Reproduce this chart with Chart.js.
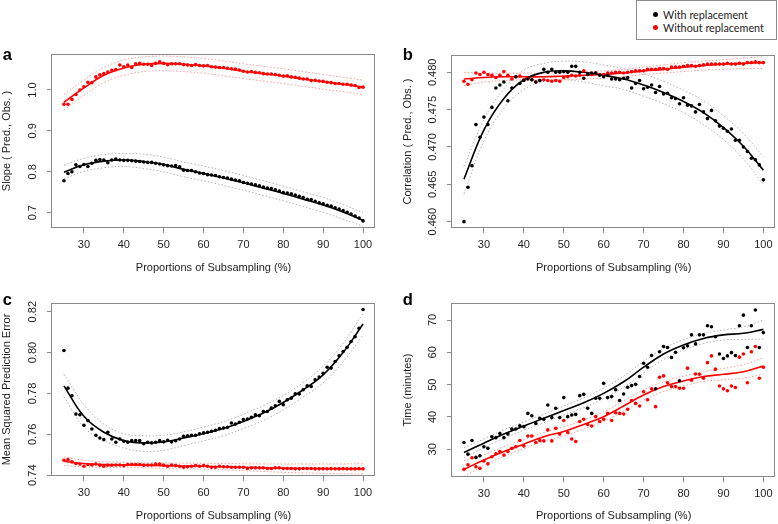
<!DOCTYPE html>
<html>
<head>
<meta charset="utf-8">
<script src="https://cdn.jsdelivr.net/npm/chart.js@4/dist/chart.umd.min.js"></script>
<style>
html,body{margin:0;padding:0;background:#fff;}
body{width:778px;height:524px;position:relative;overflow:hidden;}
canvas{position:absolute;}
#legend{position:absolute;left:636px;top:0;width:141px;height:40px;box-sizing:border-box;border:1px solid #8c8c8c;background:#fff;font-family:Lato,"Open Sans",sans-serif;font-size:10.8px;color:#222;}
.item{position:absolute;left:26px;line-height:13px;white-space:nowrap;}
.dot{position:absolute;width:5px;height:5px;border-radius:50%;left:16.2px;}
</style>
</head>
<body>
<canvas id="pa" width="390" height="240" style="left:0;top:40px"></canvas>
<canvas id="pb" width="388" height="240" style="left:390px;top:40px"></canvas>
<canvas id="pc" width="390" height="244" style="left:0;top:280px"></canvas>
<canvas id="pd" width="388" height="244" style="left:390px;top:280px"></canvas>
<div id="legend">
  <span class="dot" style="top:10.5px;background:#000"></span><span class="item" style="top:6.5px">With replacement</span>
  <span class="dot" style="top:23.8px;background:#f00"></span><span class="item" style="top:19.8px">Without replacement</span>
</div>
<script>
// ---------------- data ----------------
const proportions = [25,26,27,28,29,
  30,31,32,33,34,35,36,37,38,39,
  40,41,42,43,44,45,46,47,48,49,
  50,51,52,53,54,55,56,57,58,59,
  60,61,62,63,64,65,66,67,68,69,
  70,71,72,73,74,75,76,77,78,79,
  80,81,82,83,84,85,86,87,88,89,
  90,91,92,93,94,95,96,97,98,99,
  100];
const fitX = [25,30,35,40,45,50,55,60,65,70,75,80,85,90,95,100];
const xTicks = [30,40,50,60,70,80,90,100];

// (a) slope
const slopeWith = [0.778,0.796,0.800,0.817,0.813,
  0.818,0.813,0.821,0.828,0.830,0.829,0.822,0.829,0.831,0.829,
  0.828,0.828,0.827,0.826,0.825,0.824,0.823,0.823,0.821,0.819,
  0.817,0.815,0.814,0.815,0.812,0.804,0.803,0.803,0.800,0.797,
  0.796,0.793,0.792,0.791,0.788,0.786,0.785,0.782,0.780,0.778,
  0.774,0.772,0.770,0.768,0.766,0.763,0.760,0.759,0.756,0.753,
  0.749,0.748,0.746,0.743,0.740,0.737,0.733,0.732,0.728,0.724,
  0.722,0.718,0.716,0.712,0.709,0.705,0.701,0.697,0.692,0.687,
  0.680];
const slopeWithout = [0.965,0.965,0.977,0.989,1.000,
  1.008,1.019,1.018,1.032,1.037,1.040,1.044,1.048,1.050,1.061,
  1.057,1.061,1.055,1.064,1.065,1.063,1.063,1.060,1.065,1.069,
  1.065,1.062,1.064,1.064,1.064,1.062,1.061,1.060,1.062,1.060,
  1.059,1.060,1.057,1.056,1.055,1.055,1.053,1.052,1.051,1.049,
  1.046,1.044,1.045,1.043,1.042,1.040,1.039,1.039,1.038,1.036,
  1.034,1.035,1.032,1.031,1.029,1.027,1.027,1.023,1.024,1.022,
  1.021,1.019,1.018,1.016,1.016,1.014,1.014,1.012,1.011,1.006,
  1.007];
const slopeWithFit   = [0.799,0.817,0.826,0.829,0.825,0.818,0.806,0.796,0.785,0.773,0.760,0.747,0.733,0.719,0.702,0.681];
const slopeWithUp    = [0.816,0.833,0.842,0.845,0.843,0.836,0.824,0.814,0.803,0.791,0.778,0.765,0.751,0.737,0.720,0.700];
const slopeWithLo    = [0.783,0.801,0.810,0.813,0.808,0.800,0.788,0.778,0.767,0.755,0.742,0.729,0.715,0.701,0.684,0.667];
const slopeWithoutFit= [0.970,1.005,1.036,1.054,1.063,1.065,1.063,1.059,1.053,1.046,1.040,1.034,1.027,1.020,1.014,1.007];
const slopeWithoutUp = [0.989,1.024,1.055,1.073,1.081,1.083,1.081,1.077,1.071,1.064,1.058,1.052,1.045,1.038,1.031,1.024];
const slopeWithoutLo = [0.951,0.987,1.018,1.036,1.045,1.047,1.045,1.041,1.035,1.028,1.022,1.016,1.009,1.002,0.996,0.989];
const slopeTicks = [0.7,0.8,0.9,1.0];

// (b) correlation
const corrWith = [0.4600,0.4646,0.4675,0.4730,0.4713,
  0.4740,0.4730,0.4753,0.4779,0.4783,0.4787,0.4762,0.4779,0.4794,0.4785,
  0.4789,0.4791,0.4790,0.4787,0.4789,0.4804,0.4800,0.4804,0.4800,0.4800,
  0.4801,0.4800,0.4808,0.4808,0.4800,0.4792,0.4797,0.4799,0.4799,0.4796,
  0.4794,0.4796,0.4791,0.4791,0.4790,0.4792,0.4793,0.4779,0.4785,0.4789,
  0.4778,0.4780,0.4783,0.4773,0.4781,0.4771,0.4772,0.4766,0.4765,0.4758,
  0.4766,0.4756,0.4755,0.4747,0.4757,0.4747,0.4738,0.4749,0.4735,0.4728,
  0.4725,0.4721,0.4724,0.4709,0.4709,0.4700,0.4694,0.4685,0.4683,0.4676,
  0.4656];
const corrWithout = [0.4788,0.4784,0.4790,0.4799,0.4797,
  0.4800,0.4797,0.4796,0.4793,0.4796,0.4801,0.4796,0.4791,0.4794,0.4795,
  0.4790,0.4792,0.4790,0.4787,0.4789,0.4790,0.4789,0.4788,0.4789,0.4788,
  0.4793,0.4794,0.4796,0.4795,0.4796,0.4802,0.4797,0.4797,0.4799,0.4797,
  0.4797,0.4799,0.4799,0.4800,0.4800,0.4799,0.4800,0.4801,0.4802,0.4802,
  0.4802,0.4804,0.4804,0.4804,0.4805,0.4805,0.4804,0.4807,0.4807,0.4807,
  0.4808,0.4809,0.4809,0.4808,0.4809,0.4810,0.4811,0.4811,0.4811,0.4811,
  0.4811,0.4812,0.4811,0.4811,0.4812,0.4811,0.4813,0.4813,0.4814,0.4813,
  0.4813];
const corrWithFit    = [0.4657,0.4723,0.4765,0.4790,0.4800,0.4802,0.4800,0.4796,0.4791,0.4783,0.4773,0.4761,0.4746,0.4726,0.4701,0.4669];
const corrWithUp     = [0.4674,0.4737,0.4778,0.4803,0.4812,0.4815,0.4814,0.4810,0.4805,0.4798,0.4788,0.4776,0.4762,0.4742,0.4718,0.4687];
const corrWithLo     = [0.4637,0.4708,0.4752,0.4777,0.4788,0.4790,0.4787,0.4782,0.4777,0.4768,0.4758,0.4746,0.4730,0.4710,0.4684,0.4650];
const corrWithoutFit = [0.4791,0.4793,0.4794,0.4794,0.4794,0.4795,0.4796,0.4797,0.4799,0.4802,0.4804,0.4807,0.4809,0.4811,0.4812,0.4813];
const corrWithoutUp  = [0.4800,0.4799,0.4799,0.4799,0.4799,0.4800,0.4801,0.4802,0.4804,0.4807,0.4810,0.4813,0.4815,0.4817,0.4819,0.4821];
const corrWithoutLo  = [0.4782,0.4787,0.4789,0.4790,0.4790,0.4790,0.4791,0.4792,0.4794,0.4797,0.4799,0.4801,0.4803,0.4804,0.4805,0.4805];
const corrTicks = [0.460,0.465,0.470,0.475,0.480];

// (c) mean squared prediction error
const mspeWith = [0.8010,0.7826,0.7789,0.7699,0.7696,
  0.7644,0.7667,0.7626,0.7595,0.7582,0.7574,0.7610,0.7577,0.7561,0.7577,
  0.7566,0.7561,0.7569,0.7569,0.7569,0.7554,0.7561,0.7558,0.7561,0.7569,
  0.7563,0.7571,0.7563,0.7569,0.7577,0.7590,0.7593,0.7595,0.7595,0.7603,
  0.7607,0.7610,0.7615,0.7620,0.7628,0.7631,0.7634,0.7655,0.7650,0.7659,
  0.7672,0.7675,0.7683,0.7696,0.7691,0.7712,0.7712,0.7728,0.7740,0.7761,
  0.7745,0.7769,0.7777,0.7798,0.7797,0.7818,0.7837,0.7834,0.7867,0.7880,
  0.7899,0.7928,0.7924,0.7956,0.7984,0.8005,0.8026,0.8054,0.8078,0.8119,
  0.8211];
const mspeWithout = [0.7473,0.7476,0.7465,0.7457,0.7455,
  0.7444,0.7452,0.7450,0.7455,0.7449,0.7444,0.7449,0.7449,0.7450,0.7450,
  0.7447,0.7452,0.7452,0.7452,0.7452,0.7449,0.7450,0.7450,0.7455,0.7455,
  0.7449,0.7444,0.7449,0.7447,0.7444,0.7439,0.7441,0.7444,0.7447,0.7444,
  0.7447,0.7444,0.7439,0.7439,0.7444,0.7441,0.7441,0.7439,0.7439,0.7439,
  0.7439,0.7433,0.7436,0.7436,0.7436,0.7436,0.7433,0.7433,0.7436,0.7436,
  0.7433,0.7433,0.7433,0.7431,0.7431,0.7433,0.7433,0.7433,0.7431,0.7431,
  0.7431,0.7431,0.7432,0.7431,0.7431,0.7432,0.7431,0.7431,0.7431,0.7432,
  0.7431];
const mspeWithFit    = [0.7837,0.7688,0.7610,0.7569,0.7558,0.7563,0.7582,0.7603,0.7628,0.7663,0.7704,0.7756,0.7818,0.7891,0.8000,0.8140];
const mspeWithUp     = [0.7894,0.7746,0.7650,0.7603,0.7593,0.7595,0.7612,0.7636,0.7662,0.7698,0.7740,0.7790,0.7853,0.7933,0.8045,0.8192];
const mspeWithLo     = [0.7785,0.7635,0.7570,0.7533,0.7517,0.7522,0.7545,0.7568,0.7593,0.7628,0.7668,0.7720,0.7783,0.7852,0.7955,0.8086];
const mspeWithoutFit = [0.7468,0.7457,0.7452,0.7450,0.7449,0.7447,0.7445,0.7444,0.7441,0.7439,0.7436,0.7434,0.7433,0.7432,0.7431,0.7431];
const mspeWithoutUp  = [0.7489,0.7473,0.7466,0.7463,0.7461,0.7460,0.7459,0.7458,0.7457,0.7456,0.7455,0.7455,0.7455,0.7455,0.7455,0.7456];
const mspeWithoutLo  = [0.7447,0.7441,0.7438,0.7437,0.7436,0.7434,0.7431,0.7430,0.7426,0.7422,0.7418,0.7414,0.7411,0.7409,0.7407,0.7406];
const mspeTicks = [0.74,0.76,0.78,0.80,0.82];

// (d) time
const timeWith = [32.1,28.5,32.7,27.5,28.0,
  30.8,30.3,33.9,33.6,34.9,33.6,34.7,36.3,36.3,37.3,
  37.0,41.1,40.4,38.0,39.6,39.3,43.7,39.8,42.7,39.8,
  46.0,40.1,40.6,40.8,46.6,47.0,42.7,41.1,45.8,45.8,
  50.4,46.0,46.3,48.4,45.1,47.1,49.2,49.7,50.1,52.5,
  56.6,55.4,59.0,48.7,60.2,61.8,61.5,58.4,60.0,51.2,
  61.4,62.0,65.4,62.6,65.4,65.4,68.2,67.9,64.8,59.5,
  58.1,58.9,59.9,59.0,68.2,71.5,61.5,68.2,73.1,61.5,
  66.1];
const timeWithout = [23.8,25.2,27.4,24.6,24.1,
  26.4,25.5,27.7,28.6,29.3,28.2,29.3,30.3,30.8,32.7,
  31.0,34.1,34.1,32.1,32.7,32.6,36.0,32.6,36.5,34.7,
  38.9,35.2,33.2,32.4,38.6,39.3,37.7,37.2,40.1,38.6,
  39.3,41.1,38.9,41.3,41.1,40.9,42.4,45.1,44.2,43.4,
  47.8,45.3,48.7,43.2,52.3,52.7,50.6,49.4,49.4,48.9,
  48.9,55.1,51.4,53.3,53.2,52.0,56.8,58.9,54.8,49.6,
  48.7,48.1,49.6,49.1,58.5,59.5,50.6,60.2,61.8,52.0,
  55.4];
const timeWithFit    = [29.0,31.9,34.7,37.2,39.6,42.0,44.4,47.3,50.9,55.4,59.5,62.3,64.3,65.4,65.9,67.1];
const timeWithUp     = [30.5,33.2,36.0,38.5,40.9,43.4,45.9,48.9,52.6,57.2,61.2,63.9,65.8,66.9,67.9,70.0];
const timeWithLo     = [27.3,30.5,33.4,35.9,38.2,40.6,42.9,45.7,49.2,53.6,57.8,60.7,62.7,63.8,64.0,64.1];
const timeWithoutFit = [23.8,26.7,29.3,31.6,33.9,35.5,37.7,40.1,43.4,46.8,49.4,51.1,52.5,53.2,54.0,55.8];
const timeWithoutUp  = [26.5,28.3,30.8,33.0,35.2,36.9,39.1,41.6,45.0,48.4,50.9,52.6,54.0,55.0,56.2,58.3];
const timeWithoutLo  = [21.5,25.0,27.8,30.2,32.5,34.1,36.3,38.6,41.8,45.2,47.9,49.6,51.0,51.5,52.0,53.3];
const timeTicks = [30,40,50,60,70];

// ---------------- drawing ----------------
const BLACK = '#000000', RED = '#ff0000', GREYBAND = '#b0b0b0', REDBAND = '#ff9a9a';
const FRAME = '#8a8a8a', TEXT = '#1e1e1e';
const FONT = "'Liberation Sans', Arial, Helvetica, sans-serif";

function xy(xs, ys) { return xs.map((x, i) => ({x: x, y: ys[i]})); }
function pointSet(ys, color) {
  return {data: xy(proportions, ys), showLine: false, pointRadius: 1.8, pointHoverRadius: 1.8,
          pointBackgroundColor: color, pointBorderWidth: 0, borderColor: color};
}
function lineSet(ys, color, width, dash) {
  return {data: xy(fitX, ys), showLine: true, borderColor: color, borderWidth: width,
          borderDash: dash || [], pointRadius: 0, pointHoverRadius: 0, tension: 0.4, fill: false};
}

function makeFrame(yTicks, decimals, letter, lx, ly) {
  return {
    id: 'rFrame',
    afterDraw(chart) {
      const ctx = chart.ctx, a = chart.chartArea, ys = chart.scales.y;
      ctx.save();
      ctx.strokeStyle = FRAME; ctx.lineWidth = 1;
      const L = Math.round(a.left), T = Math.round(a.top), R = Math.round(a.right), B = Math.round(a.bottom);
      ctx.strokeRect(L - 0.5, T + 0.5, R - L, B - T - 1);
      ctx.fillStyle = TEXT; ctx.font = '11px ' + FONT;
      ctx.textAlign = 'center'; ctx.textBaseline = 'alphabetic';
      yTicks.forEach(v => {
        const py = ys.getPixelForValue(v);
        ctx.save(); ctx.translate(a.left - 16, py); ctx.rotate(-Math.PI / 2);
        ctx.fillText(v.toFixed(decimals), 0, 0); ctx.restore();
      });
      ctx.fillStyle = '#000'; ctx.font = 'bold 16.5px ' + FONT; ctx.textAlign = 'left';
      ctx.fillText(letter, lx, ly);
      ctx.restore();
    }
  };
}

function panel(id, p) {
  const canvas = document.getElementById(id);
  const datasets = [
    pointSet(p.withVals, BLACK),
    pointSet(p.withoutVals, RED),
    lineSet(p.withFit, BLACK, 1.6),
    lineSet(p.withoutFit, RED, 1.6),
    lineSet(p.withUp, GREYBAND, 1, [1.5, 2]),
    lineSet(p.withLo, GREYBAND, 1, [1.5, 2]),
    lineSet(p.withoutUp, REDBAND, 1, [1.5, 2]),
    lineSet(p.withoutLo, REDBAND, 1, [1.5, 2])
  ];
  const tickGrid = {display: true, drawOnChartArea: false, drawTicks: true, tickLength: 5, color: FRAME, lineWidth: 1};
  new Chart(canvas, {
    type: 'scatter',
    data: {datasets: datasets},
    options: {
      responsive: false, animation: false, events: [],
      layout: {padding: {left: 0, top: p.padTop, right: p.padRight, bottom: 0}},
      plugins: {legend: {display: false}, tooltip: {enabled: false}},
      scales: {
        x: {
          type: 'linear', min: 22, max: 103,
          afterBuildTicks: s => { s.ticks = xTicks.map(v => ({value: v})); },
          afterFit: s => { s.height = p.xHeight; },
          grid: tickGrid, border: {display: false},
          ticks: {autoSkip: false, maxRotation: 0, minRotation: 0, padding: 5.4, color: TEXT,
                  font: {family: FONT, size: 11}, callback: v => String(v)},
          title: {display: true, text: 'Proportions of Subsampling (%)', color: TEXT,
                  font: {family: FONT, size: 11}, padding: {top: 0, bottom: p.xTitlePad}}
        },
        y: {
          type: 'linear', min: p.yMin, max: p.yMax,
          afterBuildTicks: s => { s.ticks = p.yTicks.map(v => ({value: v})); },
          afterFit: s => { s.width = p.yWidth; },
          grid: tickGrid, border: {display: false},
          ticks: {display: false},
          title: {display: true, text: p.yTitle, color: TEXT,
                  font: {family: FONT, size: 11}, padding: {top: p.yTitlePad, bottom: 0}}
        }
      }
    },
    plugins: [makeFrame(p.yTicks, p.decimals, p.letter, p.lx, p.ly)]
  });
}

panel('pa', {withVals: slopeWith, withoutVals: slopeWithout,
  withFit: slopeWithFit, withUp: slopeWithUp, withLo: slopeWithLo,
  withoutFit: slopeWithoutFit, withoutUp: slopeWithoutUp, withoutLo: slopeWithoutLo,
  yTicks: slopeTicks, decimals: 1, yMin: 0.6626, yMax: 1.088, yTitle: 'Slope ( Pred., Obs. )',
  padTop: 14, padRight: 15, yWidth: 52, xHeight: 52, xTitlePad: 5.4, yTitlePad: 0,
  letter: 'a', lx: 2.8, ly: 19.5});

panel('pb', {withVals: corrWith, withoutVals: corrWithout,
  withFit: corrWithFit, withUp: corrWithUp, withLo: corrWithLo,
  withoutFit: corrWithoutFit, withoutUp: corrWithoutUp, withoutLo: corrWithoutLo,
  yTicks: corrTicks, decimals: 3, yMin: 0.45915, yMax: 0.48232, yTitle: 'Correlation ( Pred., Obs. )',
  padTop: 15, padRight: 1, yWidth: 62, xHeight: 52, xTitlePad: 5.4, yTitlePad: 10.9,
  letter: 'b', lx: 12.8, ly: 20});

panel('pc', {withVals: mspeWith, withoutVals: mspeWithout,
  withFit: mspeWithFit, withUp: mspeWithUp, withLo: mspeWithLo,
  withoutFit: mspeWithoutFit, withoutUp: mspeWithoutUp, withoutLo: mspeWithoutLo,
  yTicks: mspeTicks, decimals: 2, yMin: 0.7396, yMax: 0.82426, yTitle: 'Mean Squared Prediction Error',
  padTop: 23, padRight: 15, yWidth: 52, xHeight: 48, xTitlePad: 1.9, yTitlePad: 0,
  letter: 'c', lx: 2.8, ly: 25});

panel('pd', {withVals: timeWith, withoutVals: timeWithout,
  withFit: timeWithFit, withUp: timeWithUp, withLo: timeWithLo,
  withoutFit: timeWithoutFit, withoutUp: timeWithoutUp, withoutLo: timeWithoutLo,
  yTicks: timeTicks, decimals: 0, yMin: 21.43, yMax: 75.26, yTitle: 'Time (minutes)',
  padTop: 23, padRight: 1, yWidth: 62, xHeight: 47, xTitlePad: 1.9, yTitlePad: 10.9,
  letter: 'd', lx: 12.8, ly: 25});
</script>
</body>
</html>
